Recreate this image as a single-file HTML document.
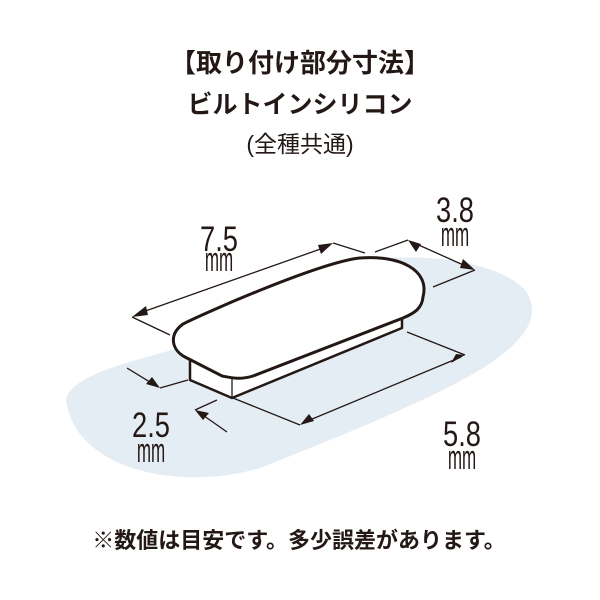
<!DOCTYPE html>
<html><head><meta charset="utf-8"><style>
body{margin:0;background:#fff;width:600px;height:600px;overflow:hidden}
svg{display:block}
.j{font-family:"Liberation Sans","Noto Sans CJK JP",sans-serif}
.n{font-family:"Liberation Sans",sans-serif;fill:#231815}
</style></head><body>
<svg width="600" height="600" viewBox="0 0 600 600">
<text x="300" y="72" text-anchor="middle" class="j" font-size="26" font-weight="bold" fill="#231815">【取り付け部分寸法】</text>
<text x="300" y="113" text-anchor="middle" class="j" font-size="25" font-weight="bold" fill="#231815">ビルトインシリコン</text>
<text x="300" y="152" text-anchor="middle" class="j" font-size="23" fill="#231815">(全種共通)</text>

<path d="M66,400 C70,375 130,362 190,345 L360,262 C420,250 500,262 525,290 C545,318 520,345 480,370 C420,405 330,440 260,468 C180,492 75,470 66,400 Z" fill="#e5edf4"/>

<g stroke="#231815" fill="none" stroke-width="1.3">
<line x1="132" y1="317" x2="170" y2="335"/><line x1="333" y1="243" x2="365" y2="253"/>
<line x1="137" y1="314" x2="329" y2="246"/>
<line x1="375" y1="252" x2="408" y2="240"/><line x1="475" y1="270" x2="433" y2="287"/>
<line x1="412" y1="242" x2="470" y2="268"/>
<line x1="407" y1="332" x2="465" y2="355"/><line x1="233" y1="398" x2="300" y2="425"/>
<line x1="305" y1="422" x2="461" y2="357"/>
<line x1="127" y1="368" x2="158" y2="387"/><line x1="160" y1="388" x2="188" y2="380"/>
<line x1="227" y1="432" x2="197" y2="411"/><line x1="195" y1="410" x2="217" y2="400"/>
</g>
<g fill="#231815">
<polygon points="132,317 146,306 148,315"/>
<polygon points="333,243 318,245 321,254"/>
<polygon points="408,240 416,252 421,244"/>
<polygon points="475,270 460,268 463,259"/>
<polygon points="300,425 309,414 314,421"/>
<polygon points="465,355 456,354 451,363"/>
<polygon points="160,388 146,384 152,377"/>
<polygon points="195,410 209,413 203,420"/>
</g>

<path d="M190,360 L190,380 L232,398 L402,328 L402,318" fill="#fff" stroke="#231815" stroke-width="2.5" stroke-linejoin="round"/>
<line x1="232" y1="377" x2="232" y2="398" stroke="#231815" stroke-width="1.3"/>
<path d="M183,324 C200,315 320,262 360,258 C400,255 430,270 423,297 C422,308 415,313 403,318 L253,376 C240,380 232,378 222,376 L185,357 C172,350 168,335 183,324 Z" fill="#fff" stroke="#231815" stroke-width="3"/>

<g class="n" text-anchor="middle">
<text x="219" y="251" font-size="35" transform="translate(219 0) scale(0.78 1) translate(-219 0)">7.5</text>
<text x="219" y="271" font-size="34" transform="translate(219 0) scale(0.5 1) translate(-219 0)">mm</text>
<text x="455" y="222" font-size="35" transform="translate(455 0) scale(0.78 1) translate(-455 0)">3.8</text>
<text x="455" y="246" font-size="34" transform="translate(455 0) scale(0.5 1) translate(-455 0)">mm</text>
<text x="151" y="437" font-size="35" transform="translate(151 0) scale(0.78 1) translate(-151 0)">2.5</text>
<text x="151" y="462" font-size="34" transform="translate(151 0) scale(0.5 1) translate(-151 0)">mm</text>
<text x="462" y="446" font-size="35" transform="translate(462 0) scale(0.78 1) translate(-462 0)">5.8</text>
<text x="462" y="469" font-size="34" transform="translate(462 0) scale(0.5 1) translate(-462 0)">mm</text>
</g>

<text x="299" y="548" text-anchor="middle" class="j" font-size="22" font-weight="bold" fill="#231815">※数値は目安です。多少誤差があります。</text>
</svg>
</body></html>
